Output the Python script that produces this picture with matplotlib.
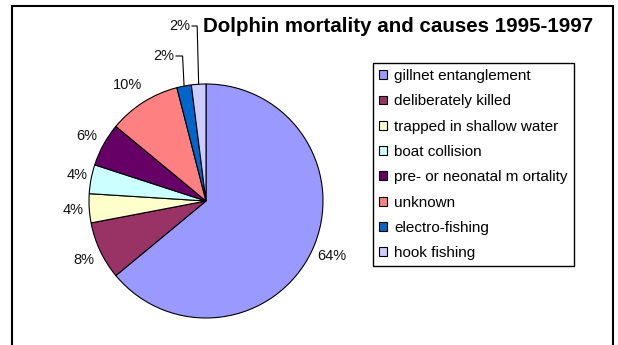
import matplotlib
matplotlib.use('Agg')
import matplotlib.pyplot as plt
import numpy as np
from matplotlib.patches import Rectangle

# Data
causes = ['gillnet entanglement', 'deliberately killed', 'trapped in shallow water',
          'boat collision', 'pre- or neonatal m ortality', 'unknown',
          'electro-fishing', 'hook fishing']
shares = [64, 8, 4, 4, 6, 10, 2, 2]
colors = ['#9999FF', '#993366', '#FFFFCC', '#CCFFFF', '#660066', '#FF8080',
          '#0066CC', '#CCCCFF']

W, H = 618, 345
plt.rcParams['font.family'] = ['Liberation Sans', 'DejaVu Sans']

fig = plt.figure(figsize=(W / 100, H / 100), dpi=100)
ax = fig.add_axes([0, 0, 1, 1])

# pie centre and radius in pixels (y measured from the top of the picture)
cx, cy, r = 206, 201, 117
wedges, _ = ax.pie(shares, colors=colors, startangle=90, counterclock=False,
                   center=(cx, H - cy), radius=r,
                   wedgeprops=dict(edgecolor='black', linewidth=0.8))
ax.set_xlim(0, W)
ax.set_ylim(0, H)
ax.set_aspect('equal')
ax.axis('off')

# percentage labels, placed where the reference puts them
label_xy = [(332, 256), (84, 260), (73, 210), (77, 175),
            (87, 136), (128, 85), (164, 56), (180, 26)]
for v, (lx, ly) in zip(shares, label_xy):
    ax.text(lx, H - ly, f'{v}%', ha='center', va='center', fontsize=10.5, color='#111111')

# leader lines for the two small slices
for i, dx in [(6, 12), (7, 12)]:
    w = wedges[i]
    mid = np.radians((w.theta1 + w.theta2) / 2)
    ex, ey = cx + r * np.cos(mid), (H - cy) + r * np.sin(mid)
    lx, ly = label_xy[i]
    ax.plot([lx + dx, ex - 1.5, ex], [H - ly, H - ly, ey], color='black', lw=0.8)

# title
fig.text(203 / W, 1 - 26 / H, 'Dolphin mortality and causes 1995-1997',
         ha='left', va='center', fontsize=14.8, fontweight='bold')

# legend
leg = ax.legend(wedges, causes, loc='upper left', mode='expand',
                bbox_to_anchor=(373 / W, 0, 201 / W, 1 - 63 / H),
                bbox_transform=fig.transFigure, borderaxespad=0,
                fontsize=11, labelspacing=0.74, handlelength=0.52,
                handleheight=0.52, handletextpad=0.45, borderpad=0.4,
                fancybox=False, framealpha=1, edgecolor='black')
leg.get_frame().set_linewidth(1.0)

# outer chart border (bottom edge runs off the picture)
ax.add_patch(Rectangle((12, -10), 601, H - 6 + 10, fill=False,
                       edgecolor='black', lw=1.5, clip_on=False))

fig.savefig('out.png', dpi=100)
